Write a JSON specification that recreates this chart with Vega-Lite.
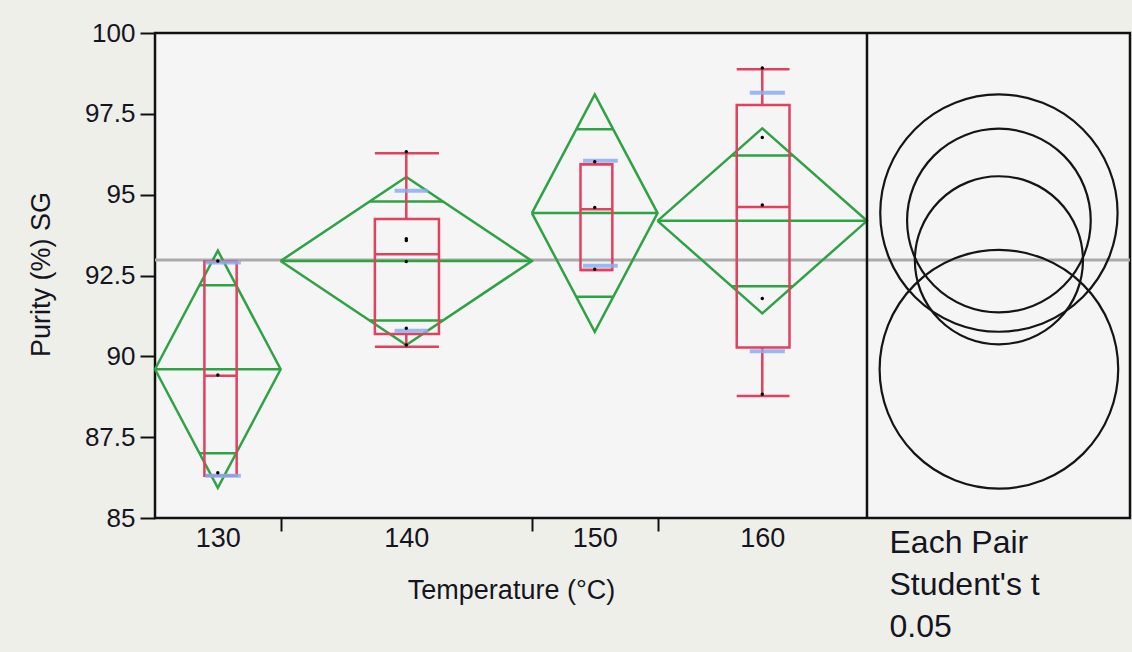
{
  "$schema": "https://vega.github.io/schema/vega-lite/v6.json",
  "width": 975,
  "height": 485,
  "autosize": "none",
  "padding": {"left": 155, "top": 33, "right": 2, "bottom": 134},
  "background": "#efefea",
  "config": {
    "view": {"fill": "#f5f5f5", "stroke": "#111111", "strokeWidth": 2.5},
    "font": "Liberation Sans",
    "axis": {"domain": false, "grid": false, "labelColor": "#151522", "titleColor": "#151522", "titleFontWeight": "normal", "tickColor": "#111111", "tickWidth": 2, "labelFont": "Liberation Sans", "titleFont": "Liberation Sans"}
  },
  "datasets": {
    "pts": [
      {"g": "130", "x": 1.5, "y": 92.95}, {"g": "130", "x": 1.5, "y": 89.42}, {"g": "130", "x": 1.5, "y": 86.4},
      {"g": "140", "x": 6, "y": 96.33}, {"g": "140", "x": 6, "y": 93.64}, {"g": "140", "x": 6, "y": 93.58}, {"g": "140", "x": 6, "y": 92.93}, {"g": "140", "x": 6, "y": 90.87}, {"g": "140", "x": 6, "y": 90.35},
      {"g": "150", "x": 10.5, "y": 96.02}, {"g": "150", "x": 10.5, "y": 94.6}, {"g": "150", "x": 10.5, "y": 92.69},
      {"g": "160", "x": 14.5, "y": 98.92}, {"g": "160", "x": 14.5, "y": 96.77}, {"g": "160", "x": 14.5, "y": 94.68}, {"g": "160", "x": 14.5, "y": 91.79}, {"g": "160", "x": 14.5, "y": 88.83}
    ],
    "diamond": [
      {"g": "130", "o": 0, "x": 0, "y": 89.6}, {"g": "130", "o": 1, "x": 1.5, "y": 93.27}, {"g": "130", "o": 2, "x": 3, "y": 89.6}, {"g": "130", "o": 3, "x": 1.5, "y": 85.93}, {"g": "130", "o": 4, "x": 0, "y": 89.6},
      {"g": "140", "o": 0, "x": 3, "y": 92.95}, {"g": "140", "o": 1, "x": 6, "y": 95.55}, {"g": "140", "o": 2, "x": 9, "y": 92.95}, {"g": "140", "o": 3, "x": 6, "y": 90.35}, {"g": "140", "o": 4, "x": 3, "y": 92.95},
      {"g": "150", "o": 0, "x": 9, "y": 94.43}, {"g": "150", "o": 1, "x": 10.5, "y": 98.1}, {"g": "150", "o": 2, "x": 12, "y": 94.43}, {"g": "150", "o": 3, "x": 10.5, "y": 90.76}, {"g": "150", "o": 4, "x": 9, "y": 94.43},
      {"g": "160", "o": 0, "x": 12, "y": 94.19}, {"g": "160", "o": 1, "x": 14.5, "y": 97.05}, {"g": "160", "o": 2, "x": 17, "y": 94.19}, {"g": "160", "o": 3, "x": 14.5, "y": 91.33}, {"g": "160", "o": 4, "x": 12, "y": 94.19}
    ],
    "hlines": [
      {"g": "130", "kind": "mean", "x0": 0, "x1": 3, "y": 89.6},
      {"g": "130", "kind": "overlap", "x0": 1.06, "x1": 1.94, "y": 92.2},
      {"g": "130", "kind": "overlap", "x0": 1.06, "x1": 1.94, "y": 87.0},
      {"g": "140", "kind": "mean", "x0": 3, "x1": 9, "y": 92.95},
      {"g": "140", "kind": "overlap", "x0": 5.12, "x1": 6.88, "y": 94.79},
      {"g": "140", "kind": "overlap", "x0": 5.12, "x1": 6.88, "y": 91.11},
      {"g": "150", "kind": "mean", "x0": 9, "x1": 12, "y": 94.43},
      {"g": "150", "kind": "overlap", "x0": 10.06, "x1": 10.94, "y": 97.02},
      {"g": "150", "kind": "overlap", "x0": 10.06, "x1": 10.94, "y": 91.84},
      {"g": "160", "kind": "mean", "x0": 12, "x1": 17, "y": 94.19},
      {"g": "160", "kind": "overlap", "x0": 13.77, "x1": 15.23, "y": 96.21},
      {"g": "160", "kind": "overlap", "x0": 13.77, "x1": 15.23, "y": 92.17}
    ],
    "box": [
      {"g": "130", "x0": 1.18, "x1": 1.95, "xc": 1.5, "q1": 86.31, "q3": 92.93, "med": 89.4, "lo": 86.31, "hi": 92.93},
      {"g": "140", "x0": 5.25, "x1": 6.78, "xc": 6.0, "q1": 90.69, "q3": 94.25, "med": 93.16, "lo": 90.3, "hi": 96.28},
      {"g": "150", "x0": 10.16, "x1": 10.92, "xc": 10.5, "q1": 92.67, "q3": 95.94, "med": 94.55, "lo": 92.67, "hi": 95.94},
      {"g": "160", "x0": 13.89, "x1": 15.15, "xc": 14.5, "q1": 90.27, "q3": 97.77, "med": 94.62, "lo": 88.77, "hi": 98.88}
    ],
    "sd": [
      {"g": "130", "x0": 1.2, "x1": 2.05, "y": 92.9}, {"g": "130", "x0": 1.2, "x1": 2.05, "y": 86.31},
      {"g": "140", "x0": 5.72, "x1": 6.52, "y": 95.12}, {"g": "140", "x0": 5.72, "x1": 6.52, "y": 90.79},
      {"g": "150", "x0": 10.22, "x1": 11.05, "y": 96.05}, {"g": "150", "x0": 10.22, "x1": 11.05, "y": 92.8},
      {"g": "160", "x0": 14.2, "x1": 15.04, "y": 98.15}, {"g": "160", "x0": 14.2, "x1": 15.04, "y": 90.16}
    ],
    "circles": [
      {"g": "130", "x": 20.15, "y": 89.6, "r": 3.69},
      {"g": "140", "x": 20.15, "y": 92.97, "r": 2.6},
      {"g": "150", "x": 20.15, "y": 94.43, "r": 3.67},
      {"g": "160", "x": 20.15, "y": 94.2, "r": 2.84}
    ],
    "grand": [{"y": 92.98}],
    "divider": [{"x": 17}]
  },
  "resolve": {"axis": {"x": "independent"}},
  "layer": [
    {
      "data": {"name": "grand"},
      "mark": {"type": "rule", "color": "#ababab", "strokeWidth": 3},
      "encoding": {
        "y": {"field": "y", "type": "quantitative", "scale": {"domain": [85, 100], "nice": false, "zero": false},
          "axis": {"values": [85, 87.5, 90, 92.5, 95, 97.5, 100], "labelExpr": "replace(format(datum.value, '.1f'), '.0', '')", "labelFontSize": 26, "labelPadding": 5, "tickSize": 15,
            "title": "Purity (%) SG", "titleFontSize": 27, "titleAngle": -90, "titleX": -106, "titleY": 241, "titleAlign": "center", "titleBaseline": "alphabetic"}}
      }
    },
    {
      "data": {"name": "diamond"},
      "mark": {"type": "line", "color": "#2ea343", "strokeWidth": 2.5},
      "encoding": {
        "x": {"field": "x", "type": "quantitative", "scale": {"domain": [0, 23.28], "nice": false, "zero": false},
          "axis": {"orient": "bottom", "values": [1.5, 6, 10.5, 14.5], "ticks": false, "labelFontSize": 27, "labelPadding": 7,
            "labelExpr": "datum.value < 3 ? '130' : datum.value < 9 ? '140' : datum.value < 12 ? '150' : '160'",
            "title": "Temperature (°C)", "titleFontSize": 27, "titleX": 356, "titleY": 80, "titleAlign": "center", "titleBaseline": "alphabetic"}},
        "y": {"field": "y", "type": "quantitative", "scale": {"domain": [85, 100], "nice": false, "zero": false}},
        "detail": {"field": "g"},
        "order": {"field": "o"}
      }
    },
    {
      "data": {"name": "hlines"},
      "mark": {"type": "rule", "color": "#2ea343", "strokeWidth": 2.5},
      "encoding": {
        "x": {"field": "x0", "type": "quantitative", "scale": {"domain": [0, 23.28], "nice": false, "zero": false}, "axis": null},
        "x2": {"field": "x1"},
        "y": {"field": "y", "type": "quantitative", "scale": {"domain": [85, 100], "nice": false, "zero": false}}
      }
    },
    {
      "data": {"name": "box"},
      "mark": {"type": "rect", "fillOpacity": 0, "fill": "#ffffff", "stroke": "#e2405f", "strokeWidth": 2.5},
      "encoding": {
        "x": {"field": "x0", "type": "quantitative", "scale": {"domain": [0, 23.28], "nice": false, "zero": false}, "axis": null},
        "x2": {"field": "x1"},
        "y": {"field": "q1", "type": "quantitative", "scale": {"domain": [85, 100], "nice": false, "zero": false}},
        "y2": {"field": "q3"}
      }
    },
    {
      "data": {"name": "box"},
      "mark": {"type": "rule", "color": "#e2405f", "strokeWidth": 2.5},
      "encoding": {
        "x": {"field": "x0", "type": "quantitative", "scale": {"domain": [0, 23.28], "nice": false, "zero": false}, "axis": null},
        "x2": {"field": "x1"},
        "y": {"field": "med", "type": "quantitative", "scale": {"domain": [85, 100], "nice": false, "zero": false}}
      }
    },
    {
      "data": {"name": "box"},
      "mark": {"type": "rule", "color": "#e2405f", "strokeWidth": 2.5},
      "encoding": {
        "x": {"field": "x0", "type": "quantitative", "scale": {"domain": [0, 23.28], "nice": false, "zero": false}, "axis": null},
        "x2": {"field": "x1"},
        "y": {"field": "lo", "type": "quantitative", "scale": {"domain": [85, 100], "nice": false, "zero": false}}
      }
    },
    {
      "data": {"name": "box"},
      "mark": {"type": "rule", "color": "#e2405f", "strokeWidth": 2.5},
      "encoding": {
        "x": {"field": "x0", "type": "quantitative", "scale": {"domain": [0, 23.28], "nice": false, "zero": false}, "axis": null},
        "x2": {"field": "x1"},
        "y": {"field": "hi", "type": "quantitative", "scale": {"domain": [85, 100], "nice": false, "zero": false}}
      }
    },
    {
      "data": {"name": "box"},
      "mark": {"type": "rule", "color": "#e2405f", "strokeWidth": 2.5},
      "encoding": {
        "x": {"field": "xc", "type": "quantitative", "scale": {"domain": [0, 23.28], "nice": false, "zero": false}, "axis": null},
        "y": {"field": "lo", "type": "quantitative", "scale": {"domain": [85, 100], "nice": false, "zero": false}},
        "y2": {"field": "q1"}
      }
    },
    {
      "data": {"name": "box"},
      "mark": {"type": "rule", "color": "#e2405f", "strokeWidth": 2.5},
      "encoding": {
        "x": {"field": "xc", "type": "quantitative", "scale": {"domain": [0, 23.28], "nice": false, "zero": false}, "axis": null},
        "y": {"field": "q3", "type": "quantitative", "scale": {"domain": [85, 100], "nice": false, "zero": false}},
        "y2": {"field": "hi"}
      }
    },
    {
      "data": {"name": "sd"},
      "mark": {"type": "rule", "color": "#8aaef0", "strokeWidth": 4, "opacity": 0.85},
      "encoding": {
        "x": {"field": "x0", "type": "quantitative", "scale": {"domain": [0, 23.28], "nice": false, "zero": false}, "axis": null},
        "x2": {"field": "x1"},
        "y": {"field": "y", "type": "quantitative", "scale": {"domain": [85, 100], "nice": false, "zero": false}}
      }
    },
    {
      "data": {"name": "pts"},
      "mark": {"type": "point", "filled": true, "color": "#000000", "size": 12, "opacity": 1},
      "encoding": {
        "x": {"field": "x", "type": "quantitative", "scale": {"domain": [0, 23.28], "nice": false, "zero": false}, "axis": null},
        "y": {"field": "y", "type": "quantitative", "scale": {"domain": [85, 100], "nice": false, "zero": false}}
      }
    },
    {
      "data": {"name": "circles"},
      "mark": {"type": "point", "filled": false, "shape": "circle", "stroke": "#151515", "strokeWidth": 2.2, "opacity": 1},
      "encoding": {
        "x": {"field": "x", "type": "quantitative", "scale": {"domain": [0, 23.28], "nice": false, "zero": false}, "axis": null},
        "y": {"field": "y", "type": "quantitative", "scale": {"domain": [85, 100], "nice": false, "zero": false}},
        "size": {"field": "r", "type": "quantitative", "scale": {"type": "pow", "exponent": 2, "domain": [0, 4], "range": [0, 66912], "zero": true}, "legend": null},
        "detail": {"field": "g"}
      }
    },
    {
      "data": {"name": "divider"},
      "mark": {"type": "rule", "color": "#111111", "strokeWidth": 2.5},
      "encoding": {
        "x": {"field": "x", "type": "quantitative", "scale": {"domain": [0, 23.28], "nice": false, "zero": false},
          "axis": {"orient": "bottom", "values": [3, 9, 12], "labels": false, "tickSize": 13, "tickWidth": 2,
            "title": ["Each Pair", "Student's t", "0.05"], "titleFontSize": 32, "titleLineHeight": 42, "titleX": 734, "titleY": 34, "titleAlign": "left", "titleBaseline": "alphabetic", "titleAnchor": "start"}}
      }
    }
  ]
}
